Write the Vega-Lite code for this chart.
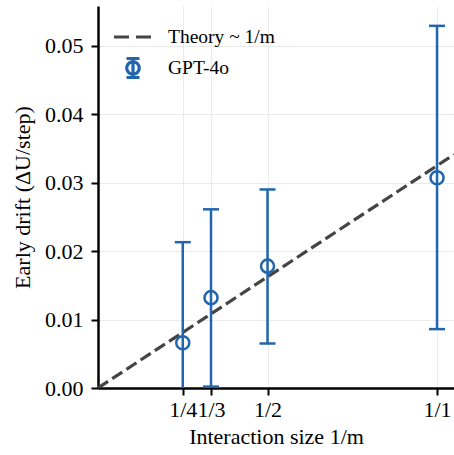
{
  "$schema": "https://vega.github.io/schema/vega-lite/v6.json",
  "width": 356,
  "height": 382,
  "autosize": {"type": "none"},
  "padding": {"left": 98, "top": 6, "right": 0, "bottom": 67},
  "background": "white",
  "config": {
    "font": "Times New Roman",
    "view": {"stroke": null},
    "axis": {
      "domainColor": "black",
      "domainWidth": 2.5,
      "tickColor": "black",
      "tickWidth": 2,
      "tickSize": 7,
      "gridColor": "#ebebeb",
      "gridWidth": 1,
      "labelColor": "black",
      "titleFontWeight": "normal",
      "titleColor": "black"
    },
    "axisX": {"labelFont": "Times New Roman", "labelFontSize": 22, "titleFont": "Times New Roman", "titleFontSize": 22, "titleFontWeight": "normal"},
    "axisY": {"labelFont": "Times New Roman", "labelFontSize": 22, "titleFont": "Times New Roman", "titleFontSize": 22, "titleFontWeight": "normal"}
  },
  "datasets": {
    "theory": [
      {"m": 0, "drift": 0, "series": "Theory ~ 1/m"},
      {"m": 1.05, "drift": 0.0341, "series": "Theory ~ 1/m"}
    ],
    "gpt": [
      {"m": 0.25, "drift": 0.0066, "lo": -0.0082, "hi": 0.0213, "series": "GPT-4o"},
      {"m": 0.3333, "drift": 0.0132, "lo": 0.0002, "hi": 0.0261, "series": "GPT-4o"},
      {"m": 0.5, "drift": 0.0178, "lo": 0.0065, "hi": 0.0290, "series": "GPT-4o"},
      {"m": 1.0, "drift": 0.0307, "lo": 0.0086, "hi": 0.0529, "series": "GPT-4o"}
    ]
  },
  "layer": [
    {
      "data": {"name": "theory"},
      "mark": {"type": "line", "strokeWidth": 3.2, "strokeDash": [12, 5], "clip": true},
      "encoding": {
        "x": {
          "field": "m", "type": "quantitative",
          "scale": {"domain": [0, 1.05], "nice": false, "zero": false},
          "axis": {
            "title": "Interaction size 1/m",
            "values": [0.25, 0.3333, 0.5, 1],
            "labelExpr": "datum.value == 0.25 ? '1/4' : (abs(datum.value - 0.3333) < 0.01 ? '1/3' : (datum.value == 0.5 ? '1/2' : '1/1'))",
            "labelFont": "Times New Roman",
            "labelFontSize": 22,
            "titleFont": "Times New Roman",
            "titleFontSize": 22,
            "titleFontWeight": "normal",
            "labelPadding": 4,
            "titlePadding": 6,
            "grid": true
          }
        },
        "y": {
          "field": "drift", "type": "quantitative",
          "scale": {"domain": [0, 0.0558], "nice": false},
          "axis": {
            "title": "Early drift (ΔU/step)",
            "values": [0, 0.01, 0.02, 0.03, 0.04, 0.05],
            "format": ".2f",
            "labelFont": "Times New Roman",
            "labelFontSize": 22,
            "titleFont": "Times New Roman",
            "titleFontSize": 22,
            "titleFontWeight": "normal",
            "labelPadding": 8,
            "titlePadding": 10,
            "grid": true
          }
        },
        "color": {
          "field": "series", "type": "nominal",
          "scale": {"domain": ["Theory ~ 1/m", "GPT-4o"], "range": ["#444444", "#2166ac"]},
          "legend": {
            "title": null,
            "orient": "none",
            "legendX": 14,
            "legendY": 10,
            "padding": 0,
            "labelFont": "Times New Roman",
            "labelFontSize": 19.5,
            "labelColor": "black",
            "labelOffset": 14,
            "rowPadding": -8,
            "symbolStrokeWidth": 3,
            "symbolType": "stroke",
            "symbolSize": 1444,
            "encode": {
              "symbols": {
                "update": {
                  "shape": {"signal": "datum.value === 'GPT-4o' ? 'M-0.62,0A0.62,0.62,0,1,0,0.62,0A0.62,0.62,0,1,0,-0.62,0M0,-0.95L0,0.95M-0.65,-0.95L0.65,-0.95M-0.65,0.95L0.65,0.95' : 'stroke'"},
                  "size": {"signal": "datum.value === 'GPT-4o' ? 400 : 1444"},
                  "strokeDash": {"signal": "datum.value === 'GPT-4o' ? [1, 0] : [15, 7]"},
                  "fill": {"value": "transparent"},
                  "strokeWidth": {"value": 3.2}
                }
              }
            }
          }
        }
      }
    },
    {
      "data": {"name": "gpt"},
      "mark": {"type": "rule", "strokeWidth": 2.5, "color": "#2166ac", "clip": true},
      "encoding": {
        "x": {"field": "m", "type": "quantitative", "axis": {"labelFont": "Times New Roman", "labelFontSize": 22, "titleFont": "Times New Roman", "titleFontSize": 22, "titleFontWeight": "normal"}},
        "y": {"field": "lo", "type": "quantitative", "axis": {"labelFont": "Times New Roman", "labelFontSize": 22, "titleFont": "Times New Roman", "titleFontSize": 22, "titleFontWeight": "normal"}},
        "y2": {"field": "hi"}
      }
    },
    {
      "data": {"name": "gpt"},
      "mark": {"type": "tick", "orient": "horizontal", "size": 16, "thickness": 2.5, "color": "#2166ac", "opacity": 1, "clip": true},
      "encoding": {
        "x": {"field": "m", "type": "quantitative", "axis": {"labelFont": "Times New Roman", "labelFontSize": 22, "titleFont": "Times New Roman", "titleFontSize": 22, "titleFontWeight": "normal"}},
        "y": {"field": "lo", "type": "quantitative", "axis": {"labelFont": "Times New Roman", "labelFontSize": 22, "titleFont": "Times New Roman", "titleFontSize": 22, "titleFontWeight": "normal"}}
      }
    },
    {
      "data": {"name": "gpt"},
      "mark": {"type": "tick", "orient": "horizontal", "size": 16, "thickness": 2.5, "color": "#2166ac", "opacity": 1, "clip": true},
      "encoding": {
        "x": {"field": "m", "type": "quantitative", "axis": {"labelFont": "Times New Roman", "labelFontSize": 22, "titleFont": "Times New Roman", "titleFontSize": 22, "titleFontWeight": "normal"}},
        "y": {"field": "hi", "type": "quantitative", "axis": {"labelFont": "Times New Roman", "labelFontSize": 22, "titleFont": "Times New Roman", "titleFontSize": 22, "titleFontWeight": "normal"}}
      }
    },
    {
      "data": {"name": "gpt"},
      "mark": {"type": "point", "shape": "circle", "filled": false, "size": 170, "strokeWidth": 2.5, "opacity": 1, "clip": true},
      "encoding": {
        "x": {"field": "m", "type": "quantitative", "axis": {"labelFont": "Times New Roman", "labelFontSize": 22, "titleFont": "Times New Roman", "titleFontSize": 22, "titleFontWeight": "normal"}},
        "y": {"field": "drift", "type": "quantitative", "axis": {"labelFont": "Times New Roman", "labelFontSize": 22, "titleFont": "Times New Roman", "titleFontSize": 22, "titleFontWeight": "normal"}},
        "color": {"field": "series", "type": "nominal"}
      }
    }
  ]
}
